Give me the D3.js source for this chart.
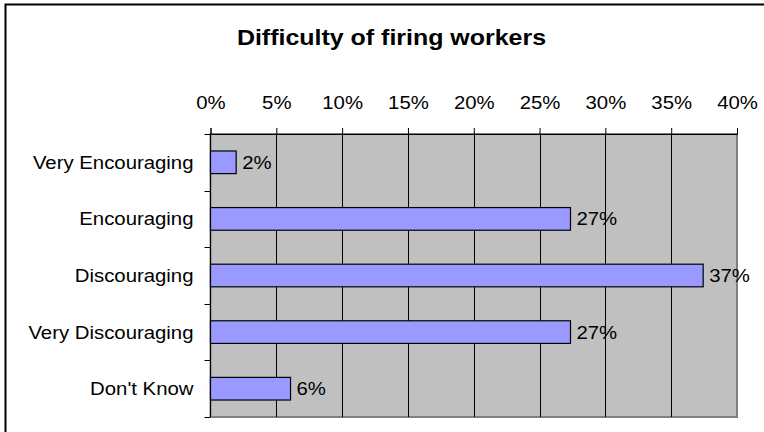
<!DOCTYPE html>
<html>
<head>
<meta charset="utf-8">
<script src="https://cdn.jsdelivr.net/npm/d3@7"></script>
<style>
  html, body { margin: 0; padding: 0; background: #fff; }
  svg { display: block; }
  text { font-family: "Liberation Sans", Arial, sans-serif; fill: #000; }
</style>
</head>
<body>
<svg id="chart" width="764" height="432"></svg>
<script>
const titleText = "Difficulty of firing workers";
const categories = ["Very Encouraging", "Encouraging", "Discouraging", "Very Discouraging", "Don't Know"];
const values = [0.0195, 0.2735, 0.3743, 0.2735, 0.0608];
const tickValues = [0, 0.05, 0.10, 0.15, 0.20, 0.25, 0.30, 0.35, 0.40];

const svg = d3.select("#chart");
const m = { left: 210.5, right: 737, top: 134, bottom: 417 };
const SX = 1.1; // horizontal text stretch seen in the reference
const FS = 18.5;

// outer frame (extends past right/bottom edges)
svg.append("rect").attr("x", 5.5).attr("y", 4.5).attr("width", 900).attr("height", 600)
  .attr("fill", "#fff").attr("stroke", "#000").attr("stroke-width", 2);

// title
svg.append("text").attr("transform", `translate(391.5,45) scale(1.11,1)`)
  .attr("text-anchor", "middle").attr("font-size", 22.5).attr("font-weight", "bold")
  .text(titleText);

const x = d3.scaleLinear().domain([0, 0.40]).range([m.left, m.right]);
const y = d3.scaleBand().domain(categories).range([m.top, m.bottom])
  .paddingInner(0.6).paddingOuter(0.3);

// plot area
svg.append("rect").attr("x", m.left).attr("y", m.top)
  .attr("width", m.right - m.left).attr("height", m.bottom - m.top)
  .attr("fill", "#C0C0C0").attr("stroke", "#808080").attr("stroke-width", 2);

// gridlines
svg.append("g").selectAll("line").data(tickValues.filter(t => t > 0 && t < 0.40)).join("line")
  .attr("x1", d => Math.round(x(d)) + 0.5).attr("x2", d => Math.round(x(d)) + 0.5)
  .attr("y1", m.top).attr("y2", m.bottom)
  .attr("stroke", "#000").attr("stroke-width", 1);

// bars
svg.append("g").selectAll("rect").data(values).join("rect")
  .attr("x", x(0)).attr("y", (d, i) => y(categories[i]))
  .attr("width", d => x(d) - x(0)).attr("height", y.bandwidth())
  .attr("fill", "#9999FF").attr("stroke", "#000").attr("stroke-width", 1.2);

// value labels
const fmt = d3.format(".0%");
svg.append("g").selectAll("text").data(values).join("text")
  .attr("transform", (d, i) => `translate(${x(d) + 6},${y(categories[i]) + y.bandwidth() / 2 + 6.5}) scale(${SX},1)`)
  .attr("font-size", FS).text(d => fmt(d));

// top axis
const xAxis = d3.axisTop(x).tickValues(tickValues).tickFormat(d3.format(".0%"))
  .tickSize(6).tickPadding(9);
const gx = svg.append("g").attr("transform", `translate(0,${m.top})`).call(xAxis);
gx.select(".domain").attr("stroke", "#000");
gx.selectAll(".tick line").attr("stroke", "#000");
gx.selectAll(".tick text").attr("font-size", FS).attr("font-family", "Liberation Sans, Arial, sans-serif")
  .attr("fill", "#000").attr("y", 0).attr("dy", 0)
  .attr("transform", `translate(0,-25.5) scale(${SX},1)`);

// left axis: line + ticks at band boundaries
const half = (y.step() - y.bandwidth()) / 2;
const bounds = categories.map(c => y(c) - half).concat([m.bottom]);
svg.append("line").attr("x1", m.left).attr("x2", m.left).attr("y1", m.top).attr("y2", m.bottom)
  .attr("stroke", "#000");
svg.append("g").selectAll("line").data(bounds).join("line")
  .attr("x1", m.left - 6).attr("x2", m.left)
  .attr("y1", d => Math.round(d) + 0.5).attr("y2", d => Math.round(d) + 0.5)
  .attr("stroke", "#000");
svg.append("g").selectAll("text").data(categories).join("text")
  .attr("transform", d => `translate(${m.left - 17},${y(d) + y.bandwidth() / 2 + 6.5}) scale(${SX},1)`)
  .attr("text-anchor", "end").attr("font-size", FS).text(d => d);
</script>
</body>
</html>
